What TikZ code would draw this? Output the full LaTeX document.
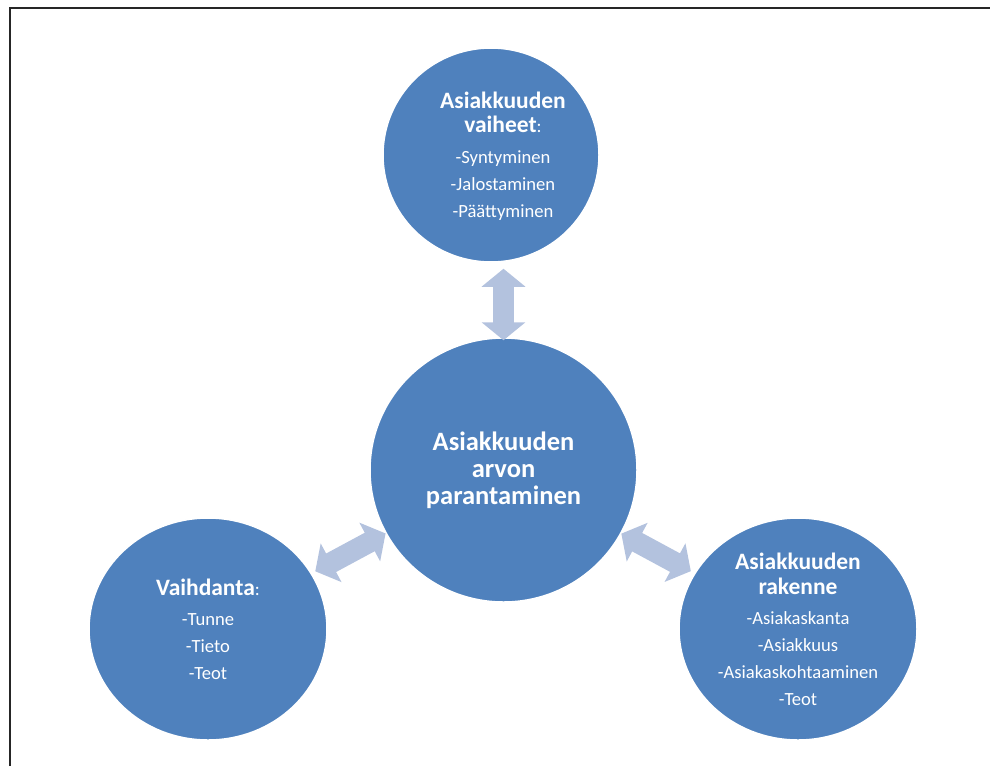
\documentclass[tikz,border=0pt]{standalone}
\usepackage{fontspec}
\setmainfont{Carlito}
\usetikzlibrary{shapes.geometric,arrows.meta}

\definecolor{bubbleblue}{HTML}{4F81BD}
\definecolor{linkblue}{HTML}{B3C2DE}
\newcommand{\ttl}[1]{{\fontsize{23.5}{27}\selectfont\bfseries #1}}

\begin{document}
\begin{tikzpicture}[x=1pt, y=-1pt,
  bubble/.style={ellipse, fill=bubbleblue, draw=white, line width=1.5pt, inner sep=0pt,
    text=white, align=center, font=\fontsize{18.6}{27}\selectfont},
  bubbletext/.style={text=white, align=center, inner sep=0pt, font=\fontsize{18.6}{27}\selectfont},
  link/.style={draw=linkblue, line width=21pt,
    {Triangle[length=18pt,width=43pt]}-{Triangle[length=18pt,width=43pt]}}]
\useasboundingbox (0,0) rectangle (990,766);
% frame
\draw[line width=2pt, black!85] (9.5,766) -- (9.5,7.5) -- (990,7.5);
% bubbles
\node[bubble, minimum width=216pt, minimum height=214pt] (stages) at (491,155) {};
\node[bubbletext] (stagestext) at ([xshift=12pt, yshift=-1pt]stages.center)
  {\ttl{Asiakkuuden}\\[-3pt] \ttl{vaiheet}:\\[4pt] -Syntyminen\\ -Jalostaminen\\ -Päättyminen};
\node[bubble, minimum width=267pt, minimum height=264pt,
  font=\fontsize{26.5}{27}\selectfont\bfseries] (centre) at (503.5,470)
  {Asiakkuuden\\ arvon\\ parantaminen};
\node[bubble, minimum width=238pt, minimum height=222pt] (exchange) at (208,629)
  {\ttl{Vaihdanta}:\\[3pt] -Tunne\\ -Tieto\\ -Teot};
\node[bubble, minimum width=238pt, minimum height=222pt] (structure) at (798,629)
  {\ttl{Asiakkuuden}\\[-2pt] \ttl{rakenne}\\[3pt] -Asiakaskanta\\ -Asiakkuus\\ -Asiakaskohtaaminen\\ -Teot};
% links
\draw[link, shorten <=6pt, shorten >=-3pt] (stages.south -| centre.north) -- (centre.north);
\draw[link, shorten <=4pt] (exchange) -- (centre);
\draw[link, shorten >=4pt] (centre) -- (structure);
\end{tikzpicture}
\end{document}
